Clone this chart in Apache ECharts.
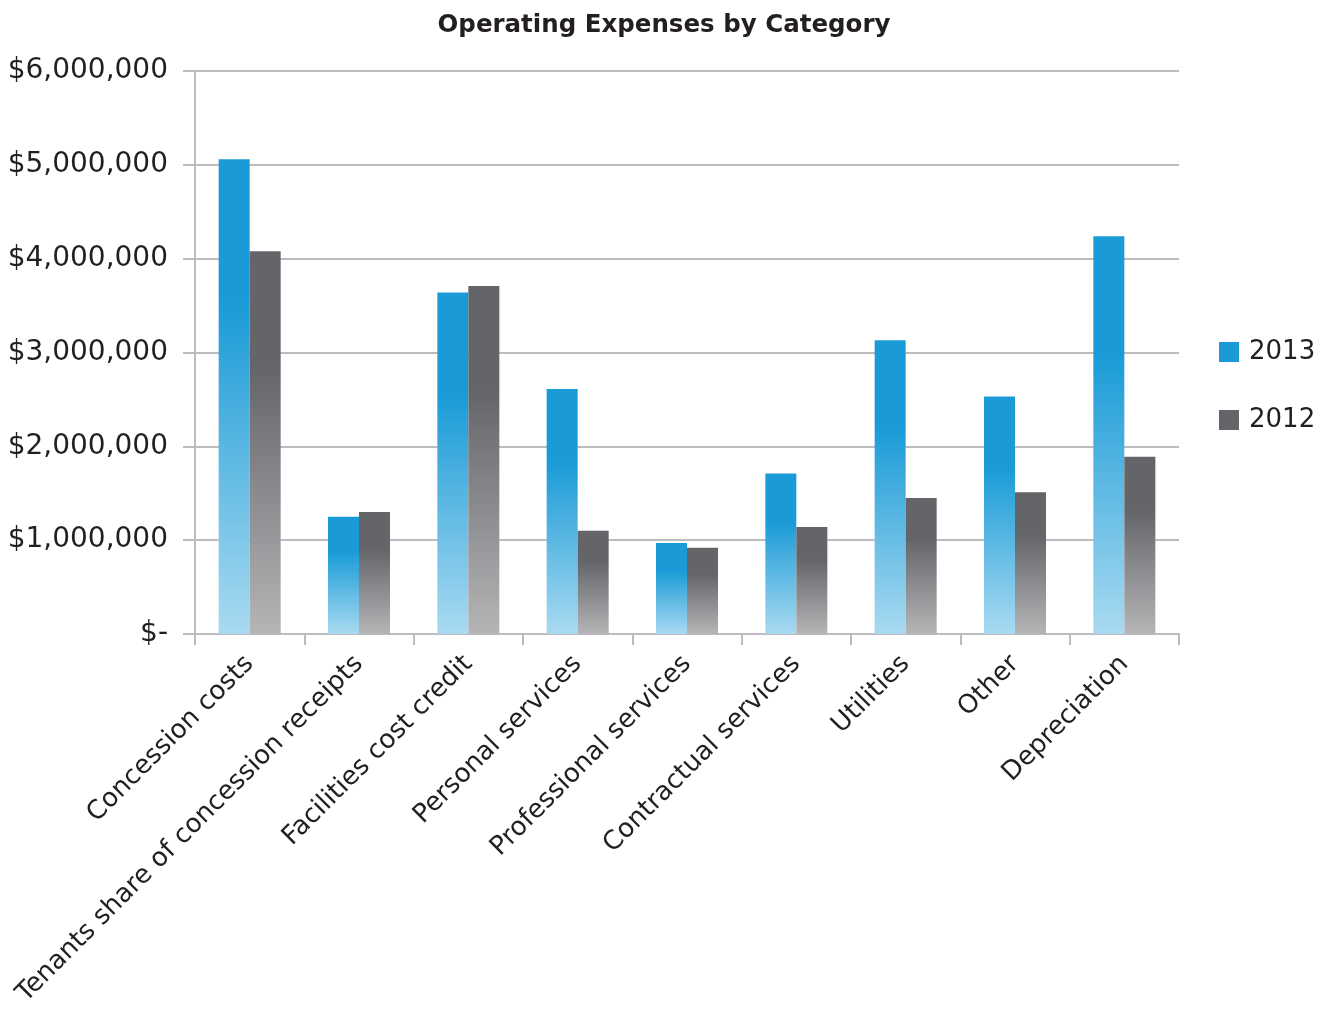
<!DOCTYPE html>
<html>
<head>
<meta charset="utf-8">
<script src="https://cdn.jsdelivr.net/npm/echarts@6/dist/echarts.min.js"></script>
<style>
  html, body { margin: 0; padding: 0; background: #fff; }
  #chart { width: 1328px; height: 1012px; }
</style>
</head>
<body>
<div id="chart"></div>
<script>
// categories and values
const categories = [
  'Concession costs',
  'Tenants share of concession receipts',
  'Facilities cost credit',
  'Personal services',
  'Professional services',
  'Contractual services',
  'Utilities',
  'Other',
  'Depreciation'
];
const values2013 = [5060000, 1250000, 3640000, 2610000, 970000, 1710000, 3130000, 2530000, 4240000];
const values2012 = [4080000, 1300000, 3710000, 1100000, 920000, 1140000, 1450000, 1510000, 1890000];

const font = '"DejaVu Sans", sans-serif';
const textColor = '#231f20';

// vertical fade: solid at the top of the bar, pale at the bottom
const fade = (top, bottom) => new echarts.graphic.LinearGradient(0, 0, 0, 1, [
  { offset: 0, color: top },
  { offset: 0.3, color: top },
  { offset: 1, color: bottom }
]);

const chart = echarts.init(document.getElementById('chart'));
chart.setOption({
  animation: false,
  title: {
    text: 'Operating Expenses by Category',
    left: 'center',
    top: 8,
    textStyle: { fontFamily: font, fontWeight: 'bold', fontSize: 24.5, color: textColor }
  },
  legend: {
    orient: 'vertical',
    left: 1214,
    top: 334,
    itemWidth: 20,
    itemHeight: 20,
    itemGap: 42,
    icon: 'rect',
    textStyle: { fontFamily: font, fontSize: 26, color: textColor, padding: [0, 0, 0, 5] },
    data: [
      { name: '2013', itemStyle: { color: '#1a9bd7' } },
      { name: '2012', itemStyle: { color: '#636569' } }
    ]
  },
  grid: { left: 195, right: 149, top: 71, bottom: 378 },
  xAxis: {
    type: 'category',
    data: categories,
    axisLine: { lineStyle: { color: '#bcbcc0', width: 2 } },
    axisTick: { show: true, length: 11, lineStyle: { color: '#bcbcc0', width: 2 } },
    axisLabel: {
      rotate: 45,
      interval: 0,
      margin: 26,
      fontFamily: font,
      fontSize: 26,
      color: textColor
    }
  },
  yAxis: {
    type: 'value',
    min: 0,
    max: 6000000,
    interval: 1000000,
    axisLine: { show: true, lineStyle: { color: '#bcbcc0', width: 2 } },
    axisTick: { show: true, length: 12, lineStyle: { color: '#bcbcc0', width: 2 } },
    splitLine: { lineStyle: { color: '#bcbcc0', width: 2 } },
    axisLabel: {
      margin: 27,
      fontFamily: font,
      fontSize: 28,
      color: textColor,
      formatter: v => v === 0 ? '$-' : '$' + v.toLocaleString('en-US')
    }
  },
  series: [
    {
      name: '2013',
      type: 'bar',
      data: values2013,
      barWidth: 31,
      barGap: '0%',
      itemStyle: { color: fade('#1a9bd7', '#a9daf1') }
    },
    {
      name: '2012',
      type: 'bar',
      data: values2012,
      barWidth: 31,
      barGap: '0%',
      itemStyle: { color: fade('#636569', '#b5b5b7') }
    }
  ]
});
</script>
</body>
</html>
